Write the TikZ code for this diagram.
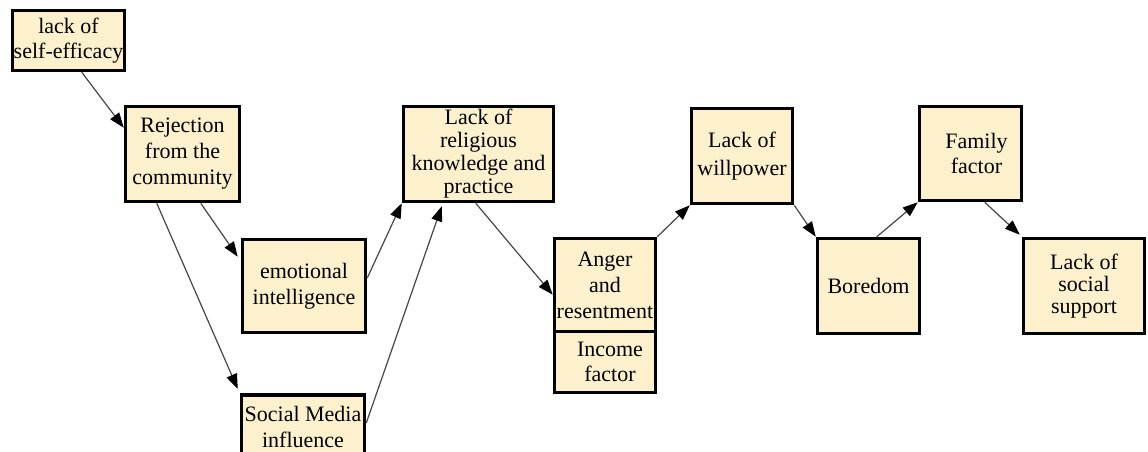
\documentclass[tikz,border=0pt]{standalone}
\usepackage{fontspec}
\setmainfont{Liberation Serif}
\usetikzlibrary{arrows.meta}
\definecolor{boxfill}{RGB}{253,240,204}
\definecolor{arrowgray}{RGB}{70,70,70}
\begin{document}
\begin{tikzpicture}[x=1pt,y=-1pt,
  box/.style={draw=black, line width=3.5pt, fill=boxfill, inner sep=0pt, align=center,
    font=\fontsize{22}{25}\selectfont},
  conn/.style={draw=arrowgray, line width=1.2pt, -{Triangle[length=15pt,width=11pt,color=black,fill=black]}}]
\useasboundingbox (0,0) rectangle (1148,452);
\fill[white] (0,0) rectangle (1148,452);
\node[box, minimum width=112pt, minimum height=60pt] (self) at (68.5,40.5) {lack of\\self-efficacy};
\node[box, minimum width=114pt, minimum height=95pt, font=\fontsize{22}{26}\selectfont] (rej) at (182.5,154) {Rejection\\from the\\community};
\node[box, minimum width=123pt, minimum height=93pt, font=\fontsize{22}{26}\selectfont] (emo) at (304,286) {emotional\\intelligence};
\node[box, minimum width=123pt, minimum height=64pt, anchor=north, font=\fontsize{22}{26}\selectfont] (sm) at (303,393) {Social Media\\influence};
\node[box, minimum width=150pt, minimum height=95pt, font=\fontsize{22}{23}\selectfont] (rel) at (478.5,154) {Lack of\\religious\\knowledge and\\practice};
\node[box, minimum width=101pt, minimum height=61pt] (inc) at (605,362) {\hspace*{10pt}Income\\\hspace*{10pt}factor};
\node[box, minimum width=101pt, minimum height=93pt, font=\fontsize{22}{26}\selectfont] (ang) at (605,285) {Anger\\and\\resentment};
\node[box, minimum width=101pt, minimum height=95pt, font=\fontsize{22}{28}\selectfont] (will) at (742,156) {Lack of\\willpower};
\node[box, minimum width=102pt, minimum height=95pt] (bor) at (868.5,286) {Boredom};
\node[box, minimum width=102pt, minimum height=94pt] (fam) at (970.5,153.5) {\hspace*{12pt}Family\\\hspace*{12pt}factor};
\node[box, minimum width=121pt, minimum height=95pt, font=\fontsize{22}{22}\selectfont] (sup) at (1084,286) {Lack of\\social\\support};
\draw[conn] ([xshift=71pt]self.south west) -- ([yshift=-23pt]rej.north west);
\draw[conn] ([xshift=77pt]rej.south west) -- ([xshift=-3pt,yshift=-19pt]emo.north west);
\draw[conn] ([xshift=33pt]rej.south west) -- ([xshift=-2pt,yshift=4pt]sm.north west);
\draw[conn] ([yshift=8pt]emo.east) -- (rel.south west);
\draw[conn] ([yshift=-30pt]sm.north east) -- ([xshift=40pt,yshift=-3pt]rel.south west);
\draw[conn] ([xshift=74pt]rel.south west) -- ([yshift=-58pt]ang.north west);
\draw[conn] (ang.north east) -- (will.south west);
\draw[conn] (will.south east) -- (bor.north west);
\draw[conn] ([xshift=61pt]bor.north west) -- (fam.south west);
\draw[conn] ([xshift=67pt]fam.south west) -- ([xshift=-2pt,yshift=2pt]sup.north west);
\end{tikzpicture}
\end{document}
